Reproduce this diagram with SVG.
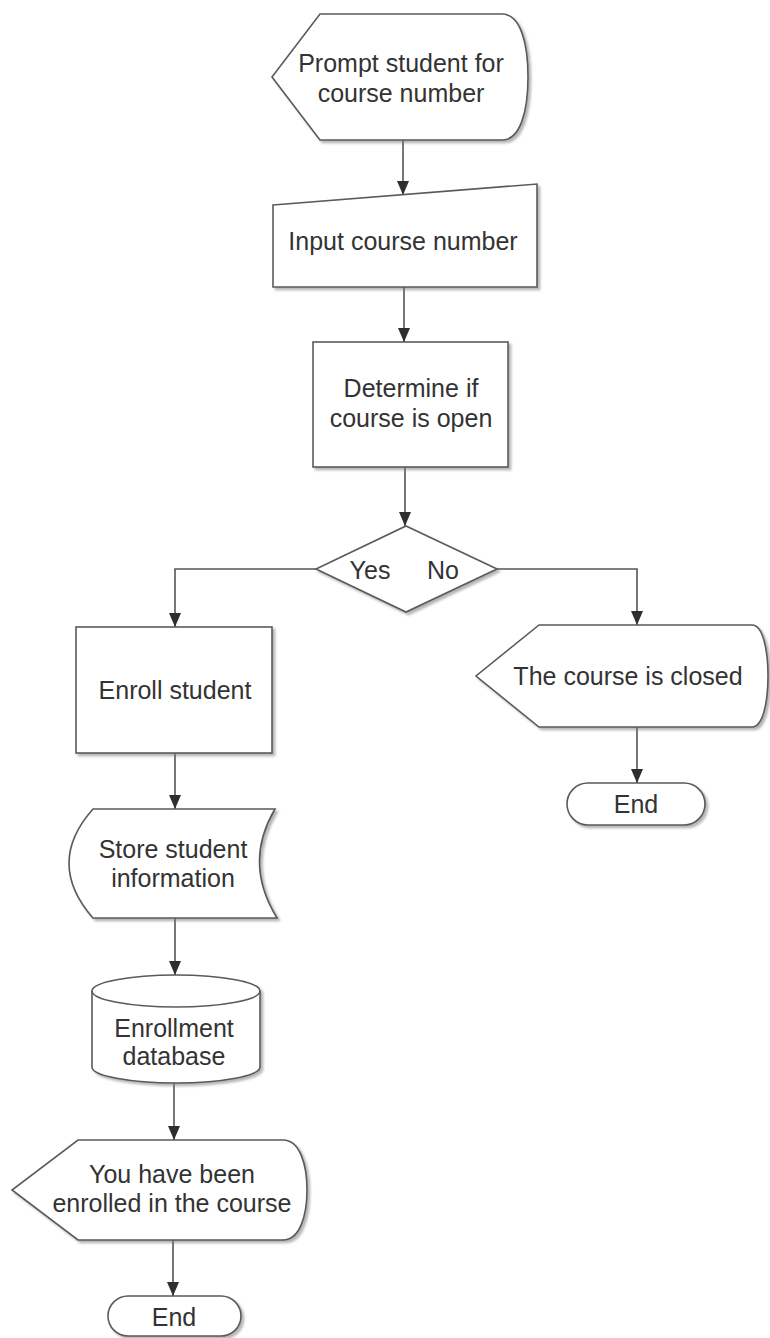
<svg xmlns="http://www.w3.org/2000/svg" width="770" height="1338" viewBox="0 0 770 1338">
  <defs>
    <filter id="shadow" x="-10%" y="-10%" width="130%" height="130%">
      <feDropShadow dx="2.5" dy="2.5" stdDeviation="1.2" flood-color="#7a7a7a" flood-opacity="0.55"/>
    </filter>
    <marker id="arrow" markerUnits="userSpaceOnUse" viewBox="0 0 14 12" refX="14" refY="6" markerWidth="14" markerHeight="12" orient="auto">
      <path d="M0,0 L14,6 L0,12 Z" fill="#2e2e2e"/>
    </marker>
  </defs>
  <style>
    .shape { fill: #ffffff; stroke: #5a5a5a; stroke-width: 1.6; filter: url(#shadow); }
    .plain { fill: none; stroke: #5a5a5a; stroke-width: 1.6; }
    .edge { fill: none; stroke: #555555; stroke-width: 1.6; }
    .label { font-family: "Liberation Sans", Arial, Helvetica, sans-serif; font-size: 25px; fill: #333333; text-anchor: middle; }
  </style>
  <rect width="770" height="1338" fill="#ffffff"/>

  <!-- connectors -->
  <g id="connectors">
    <line class="edge" x1="403" y1="140" x2="403" y2="195" marker-end="url(#arrow)"/>
    <line class="edge" x1="404" y1="287" x2="404" y2="342" marker-end="url(#arrow)"/>
    <line class="edge" x1="405" y1="467" x2="405" y2="526" marker-end="url(#arrow)"/>
    <polyline class="edge" points="316,569 175,569 175,627" marker-end="url(#arrow)"/>
    <polyline class="edge" points="497,569 637,569 637,625" marker-end="url(#arrow)"/>
    <line class="edge" x1="175" y1="753" x2="175" y2="809" marker-end="url(#arrow)"/>
    <line class="edge" x1="175" y1="918" x2="175" y2="975" marker-end="url(#arrow)"/>
    <line class="edge" x1="174" y1="1083" x2="174" y2="1140" marker-end="url(#arrow)"/>
    <line class="edge" x1="173" y1="1240" x2="173" y2="1296" marker-end="url(#arrow)"/>
    <line class="edge" x1="637" y1="727" x2="637" y2="783" marker-end="url(#arrow)"/>
  </g>

  <!-- display: prompt -->
  <g id="prompt">
    <path class="shape" d="M320,14 L502,14 C520,14 528,42 528,77 C528,112 520,140 502,140 L320,140 L272,77 Z"/>
    <text class="label" x="401" y="72">Prompt student for</text>
    <text class="label" x="401" y="102">course number</text>
  </g>

  <!-- manual input -->
  <g id="input">
    <path class="shape" d="M273,205 L537,184 L537,287 L273,287 Z"/>
    <text class="label" x="403" y="250">Input course number</text>
  </g>

  <!-- process: check -->
  <g id="check">
    <rect class="shape" x="313" y="342" width="195" height="125"/>
    <text class="label" x="411" y="397">Determine if</text>
    <text class="label" x="411" y="427">course is open</text>
  </g>

  <!-- decision -->
  <g id="decision">
    <path class="shape" d="M406,526 L497,569 L406,612 L316,569 Z"/>
    <text class="label" x="370" y="579">Yes</text>
    <text class="label" x="443" y="579">No</text>
  </g>

  <!-- process: enroll -->
  <g id="enroll">
    <rect class="shape" x="76" y="627" width="196" height="126"/>
    <text class="label" x="175" y="699">Enroll student</text>
  </g>

  <!-- stored data -->
  <g id="store">
    <path class="shape" d="M93,809 L275,809 Q243,863 277,918 L93,918 Q45,863 93,809 Z"/>
    <text class="label" x="173" y="858">Store student</text>
    <text class="label" x="173" y="887">information</text>
  </g>

  <!-- database cylinder -->
  <g id="database">
    <path class="shape" d="M92,991 A84,16 0 0 1 260,991 L260,1067 A84,16 0 0 1 92,1067 Z"/>
    <path class="plain" d="M92,991 A84,16 0 0 0 260,991"/>
    <text class="label" x="174" y="1037">Enrollment</text>
    <text class="label" x="174" y="1065">database</text>
  </g>

  <!-- display: enrolled -->
  <g id="enrolled">
    <path class="shape" d="M78,1140 L283,1140 C300,1140 307,1165 307,1190 C307,1215 300,1240 283,1240 L78,1240 L12,1190 Z"/>
    <text class="label" x="172" y="1183">You have been</text>
    <text class="label" x="172" y="1212">enrolled in the course</text>
  </g>

  <!-- terminator: end (left) -->
  <g id="end-left">
    <rect class="shape" x="108" y="1296" width="133" height="40" rx="20" ry="20"/>
    <text class="label" x="174" y="1326">End</text>
  </g>

  <!-- display: closed -->
  <g id="closed">
    <path class="shape" d="M539,625 L752,625 C763,625 768,650 768,676 C768,702 763,727 752,727 L539,727 L476,676 Z"/>
    <text class="label" x="628" y="685">The course is closed</text>
  </g>

  <!-- terminator: end (right) -->
  <g id="end-right">
    <rect class="shape" x="567" y="783" width="138" height="42" rx="21" ry="21"/>
    <text class="label" x="636" y="813">End</text>
  </g>
</svg>
